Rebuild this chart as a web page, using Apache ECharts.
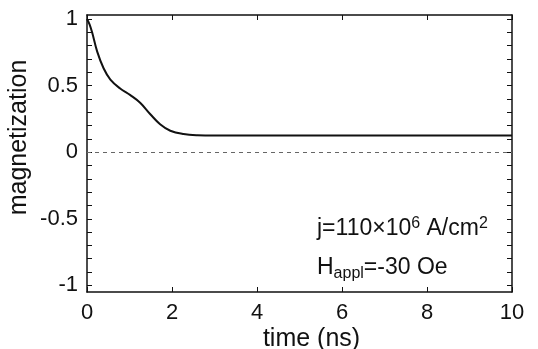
<!DOCTYPE html>
<html><head><meta charset="utf-8">
<script src="https://cdn.jsdelivr.net/npm/echarts@6/dist/echarts.min.js"></script>
<style>html,body{margin:0;padding:0;background:#fff}#c{width:538px;height:349px}</style>
</head><body><div id="c"></div>
<script>
var timeNs = [0, 0.06, 0.12, 0.24, 0.39, 0.55, 0.78, 1.02, 1.25, 1.49, 1.72, 1.96, 2.27, 2.6, 3.0, 4.0, 6.0, 8.0, 10.0];
var magnetization = [1.0, 0.96, 0.90, 0.755, 0.63, 0.545, 0.478, 0.428, 0.371, 0.285, 0.21, 0.161, 0.136, 0.127, 0.125, 0.125, 0.125, 0.125, 0.125];
var xTicks = [0, 2, 4, 6, 8, 10];
var yLabels = [-1, -0.5, 0, 0.5, 1];
var yTicks = [-1, -0.9, -0.8, -0.7, -0.6, -0.5, -0.4, -0.3, -0.2, -0.1, 0, 0.1, 0.2, 0.3, 0.4, 0.5, 0.6, 0.7, 0.8, 0.9, 1];

var chart = echarts.init(document.getElementById('c'));
var font = 'Liberation Sans, Arial, sans-serif';
var axisLine = {show: true, onZero: false, lineStyle: {color: '#111', width: 1.5}};
var tickLine = {color: '#111', width: 1};
var data = timeNs.map(function (t, i) { return [t, magnetization[i]]; });
chart.setOption({
  animation: false,
  grid: {left: 87, right: 26, top: 15, bottom: 57, containLabel: false, outerBoundsMode: 'none'},
  xAxis: [{
    type: 'value', min: 0, max: 10, interval: 2,
    axisLine: axisLine,
    axisTick: {inside: true, length: 5, customValues: xTicks, lineStyle: tickLine},
    axisLabel: {customValues: xTicks, color: '#111', fontSize: 22, fontFamily: font, margin: 10},
    splitLine: {show: false},
    name: 'time (ns)', nameLocation: 'middle', nameGap: 35, nameMoveOverlap: false,
    nameTextStyle: {color: '#111', fontSize: 25, fontFamily: font, padding: [0, 0, 0, 24]}
  }, {
    type: 'value', position: 'top', min: 0, max: 10, interval: 2,
    axisLine: axisLine,
    axisTick: {inside: true, length: 5, customValues: xTicks, lineStyle: tickLine},
    axisLabel: {show: false}, splitLine: {show: false}
  }],
  yAxis: [{
    type: 'value', min: -1.05, max: 1.03,
    axisLine: axisLine,
    axisTick: {inside: true, length: 5, customValues: yTicks, lineStyle: tickLine},
    axisLabel: {customValues: yLabels, color: '#111', fontSize: 22, fontFamily: font, margin: 9},
    splitLine: {show: false},
    name: 'magnetization', nameLocation: 'middle', nameGap: 55, nameMoveOverlap: false,
    nameTextStyle: {color: '#111', fontSize: 25, fontFamily: font, padding: [0, 0, 0, 32]}
  }, {
    type: 'value', position: 'right', min: -1.05, max: 1.03,
    axisLine: axisLine,
    axisTick: {inside: true, length: 5, customValues: yTicks, lineStyle: tickLine},
    axisLabel: {show: false}, splitLine: {show: false}
  }],
  series: [{
    type: 'line', data: data, smooth: 0.4, showSymbol: false,
    lineStyle: {color: '#111', width: 2},
    markLine: {
      silent: true, symbol: 'none', label: {show: false},
      lineStyle: {color: '#666', type: [4, 4], width: 1},
      data: [{yAxis: 0}]
    }
  }],
  graphic: [{
    type: 'text', left: 317, top: 216,
    style: {
      rich: {
        n: {fontSize: 23, fontFamily: font, fill: '#111'},
        sup: {fontSize: 16, fontFamily: font, fill: '#111', verticalAlign: 'top', padding: [0, 0, 10, 0]}
      },
      text: '{n|j=110×10}{sup|6}{n| A/cm}{sup|2}'
    }
  }, {
    type: 'text', left: 317, top: 256,
    style: {
      rich: {
        n: {fontSize: 23, fontFamily: font, fill: '#111'},
        sub: {fontSize: 16, fontFamily: font, fill: '#111', padding: [13, 0, 0, 0]}
      },
      text: '{n|H}{sub|appl}{n|=-30 Oe}'
    }
  }]
});
</script></body></html>
